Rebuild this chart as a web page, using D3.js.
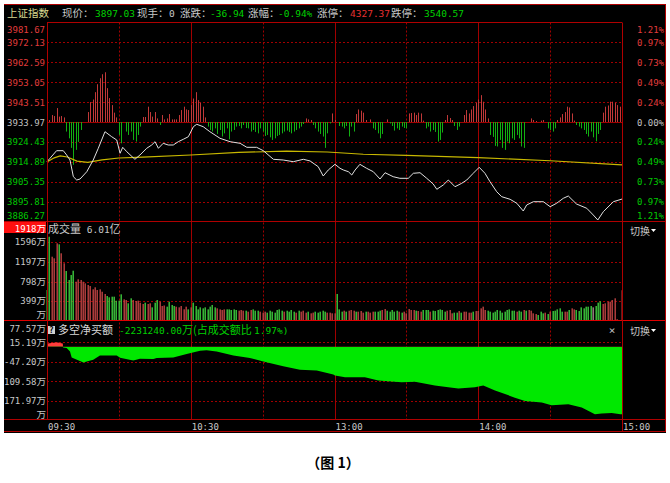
<!DOCTYPE html>
<html><head><meta charset="utf-8">
<script src="https://cdn.jsdelivr.net/npm/d3@7/dist/d3.min.js"></script>
<style>body{margin:0;background:#fff;} svg{display:block;}</style>
</head><body><svg id="c" width="670" height="483"></svg>
<script>
// ---------------- DATA ----------------
const preClose = 3933.97;
const priceTicks = [3981.67,3972.13,3962.59,3953.05,3943.51,3933.97,3924.43,3914.89,3905.35,3895.81,3886.27];
const pctTicks = ["1.21%","0.97%","0.73%","0.49%","0.24%","0.00%","0.24%","0.49%","0.73%","0.97%","1.21%"];
const timeLabels = [[0,"09:30"],[60,"10:30"],[120,"13:00"],[180,"14:00"],[240,"15:00"]];
const volTicks = [[1596,"1596"],[1197,"1197"],[798,"798"],[399,"399"],[0,""]];
const volMax = 1918;
// tick values and the label text visible at the panel's left edge
const netTicks = [[77.57,"77.57"],[15.19,"15.19"],[-47.20,"-47.20"],[-109.58,"109.58"],[-171.97,"171.97"],[-234.36,""]];

// price line [minute, price]
const price = [[0,3914.94],[1.25,3916.57],[4,3920.21],[6.8,3920.21],[8.2,3918.15],[9.6,3915.75],[11,3907.75],[12.4,3906.16],[13.8,3906.64],[16.6,3910.14],[19.3,3915.75],[21.4,3921.36],[24.2,3929.32],[27,3926.92],[29.1,3925.34],[30.5,3918.97],[31.6,3921.84],[33.3,3919.73],[36.7,3916.09],[38.8,3918.15],[41.6,3921.36],[43.7,3922.94],[45.1,3924.53],[46.5,3921.36],[48.5,3923.76],[50.6,3922.94],[52.7,3922.94],[54.8,3924.53],[56.9,3925.68],[59,3926.92],[61.1,3931.72],[62.5,3932.87],[65.2,3931.72],[68,3929.32],[72.2,3926.16],[76.4,3924.53],[80.6,3923.76],[83.4,3921.84],[87.5,3921.84],[90.3,3920.21],[94.5,3916.09],[98.6,3915.75],[102.8,3914.94],[107,3916.09],[109.8,3915.3],[113.2,3912.54],[115.3,3908.08],[117.4,3910.96],[120.2,3913.69],[122.3,3911.77],[123.7,3910.96],[125.8,3910.14],[127.2,3908.56],[128.6,3910.96],[130.6,3913.69],[133.4,3911.77],[136.2,3910.14],[139,3906.64],[141.1,3909.66],[144.5,3907.75],[147.3,3906.98],[150.8,3906.98],[152.9,3909.38],[155.7,3909.66],[158.5,3906.98],[161.2,3904.25],[162.7,3901.71],[165.4,3903.77],[167.5,3906.16],[170.3,3902.95],[173.1,3904.58],[175.2,3906.16],[177.9,3909.38],[180.4,3912.25],[182.8,3909.38],[184.9,3905.35],[187.7,3900.56],[189.8,3898.16],[193.3,3896.91],[196.1,3894.99],[198.8,3891.3],[200.2,3894.18],[203,3895.76],[207.2,3895.76],[210,3893.37],[212.7,3894.99],[215.5,3897.39],[217.6,3898.49],[221,3894.66],[225.3,3892.6],[228,3889.39],[229.9,3886.99],[232.2,3890.97],[236.4,3895.76],[240,3897.03]];

// average price line [minute, price]
const avgPrice = [[0,3914.8],[3,3916.8],[5.5,3917.7],[8.5,3917.2],[12.5,3915.2],[17,3914.6],[23,3915.8],[30,3916.7],[40,3917.1],[60,3918.15],[80,3919.4],[100,3920.0],[117,3919.6],[132,3918.5],[150,3918.0],[180,3916.9],[210,3915.4],[240,3913.4]];

// red/green force bars in price panel, one per minute (0..240)
const flow = [0,1,3.5,3,7,2.7,3,2.3,-4.8,-8.2,
-13,-21.5,-14,-10,-4,0,0,5,10,11.3,
15,19,22,24,25,17,12,8.5,4.7,2.3,
-6.5,-10.7,0,-4.8,-6.5,-4.8,-9,-9.8,-6.5,-2.3,
2.5,2.5,7.7,5,2.7,5,1.8,-1.5,3.5,1.3,
1.8,4,1.3,1.3,1.3,3.5,6,7.7,6.3,6,
8.5,11.8,15,11,9.7,7.7,2.3,-2.3,-4,-4.8,
-3.2,-6,-4,-7.3,-5.7,-3.2,-8.7,-4.8,-4,-2.3,
-2,-3.2,-1.5,-3,-3.2,-4.8,-4,-5,-5.7,-3.2,
-4.8,-7,-6.5,-7.7,-9,-8.2,-7,-6.5,-5.7,-4.8,
-4.3,-5,-5.7,-4.8,-4,-3.2,-2.3,-1,1.8,1.3,
1,-1.5,-3.2,-4.8,-6,-7.3,-13,-5.7,-0.7,4.3,
1,0,-2,-2.3,-3.2,-2,-7.3,-2.3,-4.8,4,
6.3,5.7,4.7,1,0,1.3,-3.2,-4,-5.7,-8.2,
-6,0,1.3,-0.7,-2,-4.3,-3.2,-4,-2.3,-3,
-3.2,4.3,4.5,4.7,3.5,4.7,4.3,0.7,-3.2,-2.3,
-4.8,-4,-5,-9.8,-9,-5.3,1,3.5,2,1,
-2,-4,-2.3,0,3.5,6,4.3,6.3,8,9.7,
11.3,13.5,10.2,6.3,1.8,-6.5,-7.5,-12,-12.3,-9,
-13,-14,-9.8,-10.7,-8.2,-9,-6.5,-8.2,-12.3,-13,
0,0,1.8,1,0.5,0,0.7,1,0,-3.2,
-4,-4.8,-3.2,1,2.3,4,5,7.7,7.3,4.3,
0.7,-1.5,-2.3,-3.2,-4,-6,-7.3,-4.8,-7.7,-9.7,
-6,-4,4.7,7.7,8.3,10.2,10.2,9.7,8.5,7.7,
0];

// volume per minute (万)
const volume = [625,1710,1303,1270,1576,1555,1372,1169,1012,829,
930,1018,794,843,829,794,761,727,706,639,
680,625,639,590,544,503,476,489,489,407,
408,537,435,421,354,456,421,400,408,367,
340,367,340,354,272,367,421,387,299,310,
286,387,320,299,285,272,299,232,286,231,
272,367,299,231,272,252,272,231,286,320,
272,252,231,218,231,231,231,218,231,218,
204,218,204,204,184,218,231,204,204,184,
164,184,164,204,184,164,218,231,204,184,
204,184,218,184,164,204,184,204,164,184,
150,164,184,164,184,204,184,164,164,150,
150,544,231,184,204,184,204,218,204,184,
184,197,164,184,184,164,184,184,184,204,
218,238,204,184,218,184,204,184,164,184,
150,238,218,218,204,197,184,218,218,218,
184,204,197,218,231,218,184,204,218,150,
164,164,197,164,184,184,164,164,184,197,
197,252,286,218,204,184,164,184,218,204,
164,184,218,231,204,204,184,204,184,218,
204,218,204,150,136,116,184,150,164,136,
184,197,204,231,252,184,184,184,218,252,
231,218,197,272,252,286,286,299,272,299,
367,395,340,354,387,387,421,456,30,0,
620];
// bar colour per minute: r = up, g = down, n = flat
const volColor = "ggrrrgrrgg"+"ggrrrrrrrr"+"rrrrrggggg"+"ggrrggrrrr"+"rgrrgggrrr"+
"ggggrrrrrg"+"rggggggggg"+"grrrrggggg"+"rrrgrrgggr"+"rrgggggggr"+
"ggggrgrrrg"+"rrgggggrrr"+"rgggrgrrrg"+"rrrgrrrggg"+"rrgggggrgr"+
"rrrrgrrggg"+"rggggggrrrg"+"grgrrrrgrr"+"rrrggggggg"+"gggggrggrg"+
"rrrrgggrgr"+"gggggrrgrr"+"gggggggngg"+"grrrrrrrrr"+"n";

// net buying (万) [minute, value]
const netBuy = [[0,11],[2,12],[3.5,14],[4.5,14],[5.5,12],[6.6,11],[6.7,-2],[8.2,-3.2],[9.6,-14.8],[10.3,-33.7],[15.2,-49.5],[16.6,-46.3],[19.3,-41],[22.1,-27.4],[29.1,-27.4],[30.5,-34.7],[36,-43.2],[38.8,-37.8],[44.4,-38.8],[45.8,-35.6],[52.7,-33.7],[58.3,-23],[63.9,-12.6],[66.6,-10.4],[70.8,-14.8],[77.8,-27.4],[84.7,-35.6],[90.3,-46.3],[98.6,-62],[105.6,-72.5],[112.6,-75.6],[119.5,-88.2],[120.2,-91.4],[124.4,-96.7],[132.7,-96.7],[138.3,-107],[148,-112.5],[153.6,-111.2],[161.9,-122.9],[167.5,-128.2],[171.7,-132.3],[178.6,-128.2],[182.1,-122.9],[187,-138.6],[195.3,-161.6],[199.5,-172.3],[206.5,-177.4],[210.6,-185.9],[217.6,-182.7],[223.2,-193.1],[228.7,-214.2],[231.5,-212],[235.7,-210.1],[239.4,-214.2],[240,-214.2]];

const header = [
  {t:"上证指数", c:"#d8d890", cjk:true},
  {t:"现价：", c:"#c8c8c8", cjk:true},{t:"3897.03", c:"#00d000"},
  {t:"现手：", c:"#c8c8c8", cjk:true},{t:"0", c:"#c8c8c8"},
  {t:"涨跌：", c:"#c8c8c8", cjk:true},{t:"-36.94", c:"#00d000"},
  {t:"涨幅：", c:"#c8c8c8", cjk:true},{t:"-0.94%", c:"#00d000"},
  {t:"涨停：", c:"#c8c8c8", cjk:true},{t:"4327.37", c:"#e83030"},
  {t:"跌停：", c:"#c8c8c8", cjk:true},{t:"3540.57", c:"#00d000"}
];
const headerX = [7,62,95,137,169,180,210,248,278,317,350,391,424];

// ---------------- DRAW ----------------
const svg = d3.select("#c");
const MONO = "'DejaVu Sans Mono', monospace";
const CJK = "'Noto Sans CJK SC', sans-serif";
const GRID = "#a00000";
const L = 4, R = 666, T = 4, B = 432;
const PL = 47, PR = 622;

svg.append("rect").attr("width",670).attr("height",483).attr("fill","#fff");
svg.append("rect").attr("x",L).attr("y",T).attr("width",R-L).attr("height",B-T+1).attr("fill","#000");
const defs = svg.append("defs");
defs.append("clipPath").attr("id","box").append("rect").attr("x",L).attr("y",T).attr("width",R-L).attr("height",B-T);

const x = d3.scaleLinear().domain([0,240]).range([PL,PR]);
const yP = d3.scaleLinear().domain([3886.27,3981.67]).range([221.5,22.5]);
const yF = d3.scaleLinear().domain([-50,50]).range([221.5,22.5]);
const yV = d3.scaleLinear().domain([0,volMax]).range([320.7,226.5]);
const yN = d3.scaleLinear().domain([-234.36,77.57]).range([420.5,322.5]);
const zeroY = yP(preClose);

const g = svg.append("g").attr("clip-path","url(#box)");

// ---- grid ----
const grid = g.append("g");
priceTicks.slice(1,-1).forEach(t=>{
  grid.append("line").attr("x1",PL).attr("x2",PR).attr("y1",Math.round(yP(t))+0.5).attr("y2",Math.round(yP(t))+0.5)
   .attr("stroke",GRID).attr("stroke-width",1).attr("stroke-dasharray", t===preClose?null:"2,2");
});
volTicks.slice(0,-1).forEach(d=>{
  const yy = Math.round(yV(d[0]))+0.5;
  grid.append("line").attr("x1",PL).attr("x2",PR).attr("y1",yy).attr("y2",yy).attr("stroke",GRID).attr("stroke-dasharray","2,2");
});
netTicks.slice(1,-1).forEach(d=>{
  const yy = Math.round(yN(d[0]))+0.5;
  grid.append("line").attr("x1",PL).attr("x2",PR).attr("y1",yy).attr("y2",yy).attr("stroke",GRID).attr("stroke-dasharray","2,2");
});
[30,60,90,120,150,180,210].forEach(m=>{
  const xx = Math.round(x(m))+0.5;
  grid.append("line").attr("x1",xx).attr("x2",xx).attr("y1",22.5).attr("y2",419)
   .attr("stroke",GRID).attr("stroke-dasharray", m%60===0?null:"2,2");
});

// ---- force bars ----
g.append("g").selectAll("rect").data(flow.map((v,i)=>[i,v]).filter(d=>d[1]!==0)).join("rect")
  .attr("x",d=>Math.round(x(d[0]))).attr("width",1)
  .attr("y",d=>d[1]>0?yF(d[1]):zeroY).attr("height",d=>Math.abs(yF(d[1])-zeroY))
  .attr("fill",d=>d[1]>0?"#c03838":"#12b012");

// ---- price / avg lines ----
const line = d3.line().x(d=>x(d[0])).y(d=>yP(d[1]));
g.append("path").datum(avgPrice).attr("d",line).attr("fill","none").attr("stroke","#c8b800").attr("stroke-width",1.2);
g.append("path").datum(price).attr("d",line).attr("fill","none").attr("stroke","#e0e0e0").attr("stroke-width",1);

// ---- volume bars ----
const vcol = {r:"#bc4242", g:"#3cc83c", n:"#a08888"};
g.append("g").selectAll("rect").data(volume.map((v,i)=>[i,v]).filter(d=>d[1]>0)).join("rect")
  .attr("x",d=>Math.round(x(d[0]))-0.5).attr("width",1.4)
  .attr("y",d=>yV(d[1])).attr("height",d=>yV(0)-yV(d[1]))
  .attr("fill",d=>vcol[volColor[d[0]]]);

// ---- net buy area ----
const n0 = yN(0);
defs.append("clipPath").attr("id","pos").append("rect").attr("x",PL).attr("y",320).attr("width",PR-PL).attr("height",n0-320);
defs.append("clipPath").attr("id","neg").append("rect").attr("x",PL).attr("y",n0).attr("width",PR-PL).attr("height",420-n0);
const area = d3.area().x(d=>x(d[0])).y0(n0).y1(d=>yN(d[1]));
g.append("path").datum(netBuy).attr("d",area).attr("fill","#ff3c3c").attr("clip-path","url(#pos)");
g.append("path").datum(netBuy).attr("d",area).attr("fill","#00e800").attr("clip-path","url(#neg)");

// ---- frame lines ----
const frame = g.append("g").attr("stroke","#b00000").attr("stroke-width",1);
frame.append("line").attr("x1",L).attr("x2",R).attr("y1",4.5).attr("y2",4.5);
frame.append("line").attr("x1",PL).attr("x2",PR).attr("y1",22.5).attr("y2",22.5);
frame.append("line").attr("x1",L).attr("x2",R).attr("y1",221.5).attr("y2",221.5);
frame.append("line").attr("x1",L).attr("x2",R).attr("y1",320.5).attr("y2",320.5).attr("stroke","#e00000");
frame.append("line").attr("x1",L).attr("x2",R).attr("y1",419.5).attr("y2",419.5);
frame.append("line").attr("x1",L).attr("x2",R).attr("y1",431.5).attr("y2",431.5);
frame.append("line").attr("x1",PL+0.5).attr("x2",PL+0.5).attr("y1",22.5).attr("y2",419.5);
frame.append("line").attr("x1",PR+0.5).attr("x2",PR+0.5).attr("y1",22.5).attr("y2",432);
frame.append("line").attr("x1",R-0.5).attr("x2",R-0.5).attr("y1",4).attr("y2",432);

// ---- texts ----
const tx = g.append("g");
header.forEach((h,i)=>{
  tx.append("text").attr("x",headerX[i]).attr("y",17).attr("fill",h.c)
    .attr("font-family",h.cjk?CJK:MONO).attr("font-size",h.cjk?10.5:9.5).text(h.t);
});
priceTicks.forEach((t,i)=>{
  let yy = yP(t)+3.5;
  if(i===0) yy = 32.5;
  if(i===priceTicks.length-1) yy = 218.5;
  const col = t>preClose?"#e03c3c":(t<preClose?"#00c800":"#c0c0c0");
  tx.append("text").attr("x",45).attr("y",yy).attr("text-anchor","end").attr("fill",col)
    .attr("font-family",MONO).attr("font-size",9).text(t.toFixed(2));
  tx.append("text").attr("x",664).attr("y",yy).attr("text-anchor","end").attr("fill",col)
    .attr("font-family",MONO).attr("font-size",9).text(pctTicks[i]);
});
tx.append("rect").attr("x",4).attr("y",222).attr("width",42).attr("height",11).attr("fill","#ff1010");
function wanLabel(xx,yy,num,col){
  const t = tx.append("text").attr("x",xx).attr("y",yy).attr("text-anchor","end").attr("fill",col);
  t.append("tspan").attr("font-family",MONO).attr("font-size",9).text(num);
  t.append("tspan").attr("font-family",CJK).attr("font-size",9.5).text("万");
}
wanLabel(46,231.5,String(volMax),"#ffffff");
volTicks.forEach(d=>{
  const yy = d[0]===0 ? 317.5 : yV(d[0])+(d[0]===399?2.5:3);
  wanLabel(46,yy,d[1],"#c8c8c8");
});
netTicks.forEach((d,i)=>{
  let yy = yN(d[0])+3.5;
  if(i===0) yy = 331.5;
  if(i===netTicks.length-1) yy = 417.5;
  wanLabel(46,yy,d[1],"#c8c8c8");
});
const vt = tx.append("text").attr("x",48).attr("y",233).attr("fill","#c8c8c8");
vt.append("tspan").attr("font-family",CJK).attr("font-size",11).text("成交量");
vt.append("tspan").attr("font-family",MONO).attr("font-size",9.5).text(" 6.01");
vt.append("tspan").attr("font-family",CJK).attr("font-size",11).text("亿");
tx.append("rect").attr("x",48).attr("y",326).attr("width",7).attr("height",8).attr("fill","#d0d0d0");
tx.append("text").attr("x",51.5).attr("y",333).attr("text-anchor","middle").attr("fill","#000")
  .attr("font-family",MONO).attr("font-size",8).attr("font-weight","bold").text("?");
tx.append("text").attr("x",58).attr("y",334).attr("fill","#d8d8d8").attr("font-family",CJK).attr("font-size",11).text("多空净买额");
const nt = tx.append("text").attr("x",119).attr("y",334).attr("fill","#00d000");
nt.append("tspan").attr("font-family",MONO).attr("font-size",9.5).text("-2231240.00");
nt.append("tspan").attr("font-family",CJK).attr("font-size",11).text("万(占成交额比 ");
nt.append("tspan").attr("font-family",MONO).attr("font-size",9.5).text("1.97%)");
[235,335].forEach(yy=>{
  tx.append("text").attr("x",630).attr("y",yy).attr("fill","#c8c8c8").attr("font-family",CJK).attr("font-size",10).text("切换");
  tx.append("path").attr("d",`M651,${yy-6}h5l-2.5,3z`).attr("fill","#ffffff");
});
tx.append("text").attr("x",612).attr("y",334).attr("text-anchor","middle").attr("fill","#c0c0c0")
  .attr("font-family",MONO).attr("font-size",11).text("×");
timeLabels.forEach(d=>{
  tx.append("text").attr("x",x(d[0])+1).attr("y",429.5).attr("fill","#c8c8c8")
    .attr("font-family",MONO).attr("font-size",9).text(d[1]);
});
svg.append("text").attr("x",333).attr("y",468).attr("text-anchor","middle").attr("fill","#000")
  .attr("font-family",CJK).attr("font-size",14).attr("font-weight","bold").text("（图 1）");
</script>
</body></html>
